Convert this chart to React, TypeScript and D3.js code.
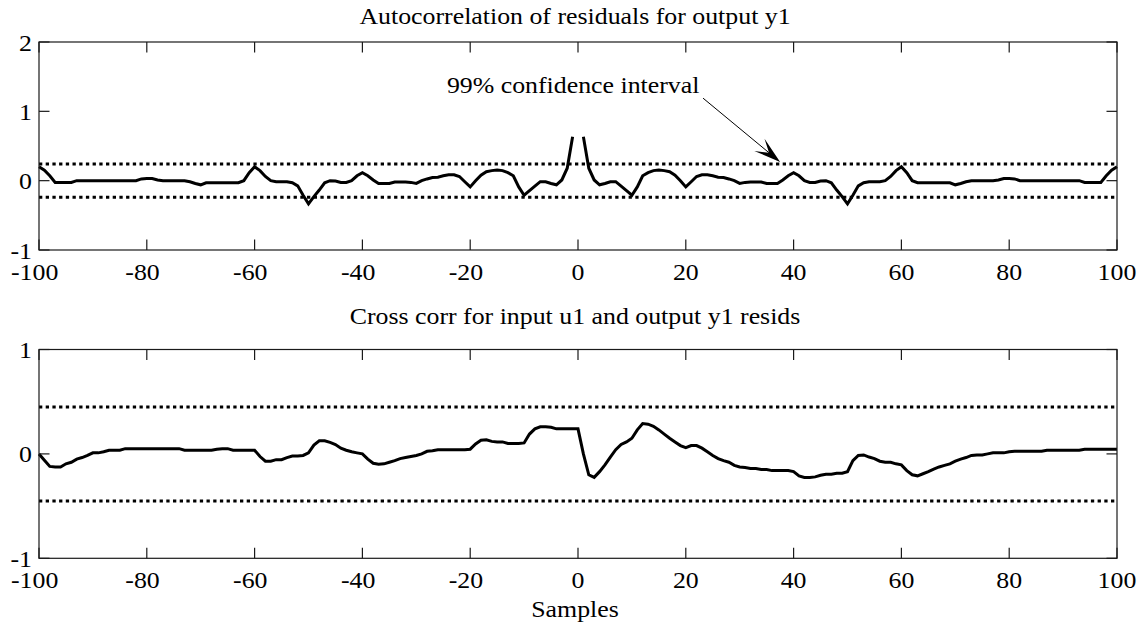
import React from "react";
import * as d3 from "d3";

// ---------------- DATA ----------------
const LAGS: number[] = d3.range(-100, 101);
const X_TICKS: number[] = [-100, -80, -60, -40, -20, 0, 20, 40, 60, 80, 100];
const TOP_Y_TICKS: number[] = [-1, 0, 1, 2];
const BOTTOM_Y_TICKS: number[] = [-1, 0, 1];

const TOP_TITLE = "Autocorrelation of residuals for output y1";
const BOTTOM_TITLE = "Cross corr for input u1 and output y1 resids";
const X_LABEL = "Samples";
const ANNOTATION_TEXT = "99% confidence interval";

const AUTO_CONF = 0.24;
const CROSS_CONF = 0.45;

// autocorrelation of residuals, lags -100..100 (lag 0 not drawn)
const AUTO_CORR: (number | null)[] = [
  0.2, 0.15, 0.07, -0.025, -0.025, -0.025, -0.025, 0, 0, 0,
  0, 0, 0, 0, 0, 0, 0, 0, 0, 0.025,
  0.03, 0.03, 0.01, 0, 0, 0, 0, 0, -0.015, -0.04,
  -0.06, -0.03, -0.03, -0.03, -0.03, -0.03, -0.03, -0.03, 0.0, 0.115,
  0.2, 0.145, 0.06, 0.0, -0.015, -0.015, -0.015, -0.03, -0.075, -0.21,
  -0.335, -0.23, -0.135, -0.03, 0.0, -0.005, -0.025, -0.025, 0.0, 0.07,
  0.115, 0.07, 0.01, -0.04, -0.04, -0.04, -0.02, -0.02, -0.02, -0.025,
  -0.04, 0.0, 0.025, 0.045, 0.05, 0.07, 0.085, 0.085, 0.06, -0.015,
  -0.09, 0.0, 0.08, 0.13, 0.145, 0.155, 0.145, 0.115, 0.07, -0.09,
  -0.21, -0.145, -0.08, -0.015, -0.015, -0.04, -0.06, 0.01, 0.18, 0.635,
  null,
  0.635, 0.18, 0.01, -0.06, -0.04, -0.015, -0.015, -0.08, -0.145, -0.21,
  -0.09, 0.07, 0.115, 0.145, 0.155, 0.145, 0.13, 0.08, 0.0, -0.09,
  -0.015, 0.06, 0.085, 0.085, 0.07, 0.05, 0.045, 0.025, 0.0, -0.04,
  -0.025, -0.02, -0.02, -0.02, -0.04, -0.04, -0.04, 0.01, 0.07, 0.115,
  0.07, 0.0, -0.025, -0.025, -0.005, 0.0, -0.03, -0.135, -0.23, -0.335,
  -0.21, -0.075, -0.03, -0.015, -0.015, -0.015, 0.0, 0.06, 0.145, 0.2,
  0.115, 0.0, -0.03, -0.03, -0.03, -0.03, -0.03, -0.03, -0.03, -0.06,
  -0.04, -0.015, 0, 0, 0, 0, 0, 0.01, 0.03, 0.03,
  0.025, 0, 0, 0, 0, 0, 0, 0, 0, 0,
  0, 0, 0, -0.025, -0.025, -0.025, -0.025, 0.07, 0.15, 0.2,
];

// cross correlation input u1 / output y1 residuals, lags -100..100
const CROSS_CORR: number[] = [
  0, -0.06, -0.12, -0.125, -0.125, -0.095, -0.08, -0.05, -0.035, -0.015,
  0.01, 0.01, 0.02, 0.035, 0.035, 0.035, 0.05, 0.05, 0.05, 0.05,
  0.05, 0.05, 0.05, 0.05, 0.05, 0.05, 0.05, 0.035, 0.035, 0.035,
  0.035, 0.035, 0.035, 0.045, 0.05, 0.05, 0.035, 0.035, 0.035, 0.035,
  0.035, -0.025, -0.07, -0.07, -0.055, -0.055, -0.035, -0.02, -0.02, -0.015,
  0.01, 0.085, 0.125, 0.125, 0.11, 0.09, 0.055, 0.035, 0.02, 0.01,
  0, -0.05, -0.09, -0.1, -0.095, -0.08, -0.065, -0.045, -0.035, -0.025,
  -0.015, 0, 0.025, 0.03, 0.04, 0.04, 0.04, 0.04, 0.04, 0.04,
  0.045, 0.095, 0.13, 0.135, 0.12, 0.115, 0.115, 0.1, 0.1, 0.1,
  0.105, 0.19, 0.24, 0.26, 0.26, 0.255, 0.24, 0.24, 0.24, 0.24,
  0.24,
  0.0, -0.2, -0.225, -0.17, -0.105, -0.03, 0.04, 0.09, 0.115, 0.15,
  0.23, 0.29, 0.285, 0.265, 0.23, 0.19, 0.15, 0.115, 0.08, 0.06,
  0.08, 0.08, 0.055, 0.02, -0.015, -0.045, -0.065, -0.08, -0.11, -0.125,
  -0.13, -0.14, -0.14, -0.15, -0.15, -0.16, -0.16, -0.16, -0.16, -0.17,
  -0.21, -0.225, -0.225, -0.22, -0.205, -0.195, -0.195, -0.185, -0.185, -0.17,
  -0.065, -0.015, -0.01, -0.03, -0.045, -0.07, -0.08, -0.08, -0.095, -0.105,
  -0.16, -0.2, -0.21, -0.19, -0.17, -0.145, -0.125, -0.11, -0.095, -0.07,
  -0.05, -0.035, -0.015, -0.01, -0.01, 0, 0.01, 0.01, 0.01, 0.02,
  0.025, 0.025, 0.025, 0.025, 0.025, 0.025, 0.035, 0.035, 0.035, 0.035,
  0.035, 0.035, 0.035, 0.045, 0.045, 0.045, 0.045, 0.045, 0.045, 0.045,
];

// ---------------- STYLE ----------------
const W = 1146;
const H = 626;
const FONT = "'Liberation Serif', 'Times New Roman', Times, serif";
const FS = 23.5;
const SX = 1.1;
const LEFT = 39;
const RIGHT = 1117;
const TICK = 10.5;

type PanelProps = {
  top: number;
  bottom: number;
  yDomain: [number, number];
  yTicks: number[];
  values: (number | null)[];
  conf: number;
  title: string;
  titleY: number;
  children?: (x: d3.ScaleLinear<number, number>, y: d3.ScaleLinear<number, number>) => React.ReactNode;
};

function STxt({ x, y, anchor, children }: { x: number; y: number; anchor: string; children: React.ReactNode }) {
  return (
    <text
      transform={`translate(${x},${y}) scale(${SX},1)`}
      textAnchor={anchor as any}
      fontFamily={FONT}
      fontSize={FS}
      fill="#000"
    >
      {children}
    </text>
  );
}

function Panel({ top, bottom, yDomain, yTicks, values, conf, title, titleY, children }: PanelProps) {
  const x = d3.scaleLinear().domain([-100, 100]).range([LEFT, RIGHT]);
  const y = d3.scaleLinear().domain(yDomain).range([bottom, top]);
  const line = d3
    .line<number | null>()
    .defined((d) => d !== null)
    .x((_, i) => x(LAGS[i]))
    .y((d) => y(d as number));
  const hyphenHalf = (0.333 * FS * SX) / 2;
  return (
    <g>
      {[conf, -conf].map((c, i) => (
        <line
          key={"c" + i}
          x1={x(-100)}
          x2={x(100)}
          y1={y(c)}
          y2={y(c)}
          stroke="#000"
          strokeWidth={3}
          strokeDasharray="3.3 3.4"
        />
      ))}
      <path d={line(values) || ""} fill="none" stroke="#000" strokeWidth={3} strokeLinejoin="miter" strokeMiterlimit={4} />
      <rect x={LEFT} y={top} width={RIGHT - LEFT} height={bottom - top} fill="none" stroke="#1a1a1a" strokeWidth={1.2} />
      {X_TICKS.map((t) => (
        <g key={"xt" + t}>
          <line x1={x(t)} x2={x(t)} y1={bottom} y2={bottom - TICK} stroke="#1a1a1a" strokeWidth={1.2} />
          <line x1={x(t)} x2={x(t)} y1={top} y2={top + TICK} stroke="#1a1a1a" strokeWidth={1.2} />
          <STxt x={x(t) - (t < 0 ? hyphenHalf : 0)} y={bottom + 29.5} anchor="middle">
            {String(t)}
          </STxt>
        </g>
      ))}
      {yTicks.map((t) => (
        <g key={"yt" + t}>
          <line x1={LEFT} x2={LEFT + TICK} y1={y(t)} y2={y(t)} stroke="#1a1a1a" strokeWidth={1.2} />
          <line x1={RIGHT} x2={RIGHT - TICK} y1={y(t)} y2={y(t)} stroke="#1a1a1a" strokeWidth={1.2} />
          <STxt x={32} y={y(t) + 8.5} anchor="end">
            {String(t)}
          </STxt>
        </g>
      ))}
      <STxt x={(LEFT + RIGHT) / 2 - 3} y={titleY} anchor="middle">
        {title}
      </STxt>
      {children ? children(x, y) : null}
    </g>
  );
}

function Annotation(x: d3.ScaleLinear<number, number>, y: d3.ScaleLinear<number, number>) {
  const tx = x(-0.9);
  const ty = y(1.26);
  const x0 = x(23.2);
  const y0 = y(1.19);
  const x1 = x(37.5);
  const y1 = y(0.27);
  const ang = Math.atan2(y1 - y0, x1 - x0);
  const L = 24;
  const hw = 8;
  const cos = Math.cos(ang);
  const sin = Math.sin(ang);
  const bx = x1 - L * cos;
  const by = y1 - L * sin;
  const nx = x1 - L * 0.6 * cos;
  const ny = y1 - L * 0.6 * sin;
  const p1 = [bx - hw * sin - L * 0.12 * cos, by + hw * cos - L * 0.12 * sin];
  const p2 = [bx + hw * sin - L * 0.12 * cos, by - hw * cos - L * 0.12 * sin];
  return (
    <g>
      <STxt x={tx} y={ty} anchor="middle">
        {ANNOTATION_TEXT}
      </STxt>
      <line x1={x0} y1={y0} x2={nx} y2={ny} stroke="#000" strokeWidth={1} />
      <polygon points={`${x1},${y1} ${p1[0]},${p1[1]} ${nx},${ny} ${p2[0]},${p2[1]}`} fill="#000" />
    </g>
  );
}

export default function App() {
  return (
    <svg
      width={W}
      height={H}
      viewBox={`0 0 ${W} ${H}`}
      style={{ position: "absolute", left: 0, top: 0, background: "#fff", display: "block" }}
    >
      <rect x={0} y={0} width={W} height={H} fill="#fff" />
      <Panel
        top={42}
        bottom={250}
        yDomain={[-1, 2]}
        yTicks={TOP_Y_TICKS}
        values={AUTO_CORR}
        conf={AUTO_CONF}
        title={TOP_TITLE}
        titleY={24}
      >
        {Annotation}
      </Panel>
      <Panel
        top={349.5}
        bottom={558.3}
        yDomain={[-1, 1]}
        yTicks={BOTTOM_Y_TICKS}
        values={CROSS_CORR}
        conf={CROSS_CONF}
        title={BOTTOM_TITLE}
        titleY={324}
      />
      <STxt x={(LEFT + RIGHT) / 2 - 3} y={617} anchor="middle">
        {X_LABEL}
      </STxt>
    </svg>
  );
}
